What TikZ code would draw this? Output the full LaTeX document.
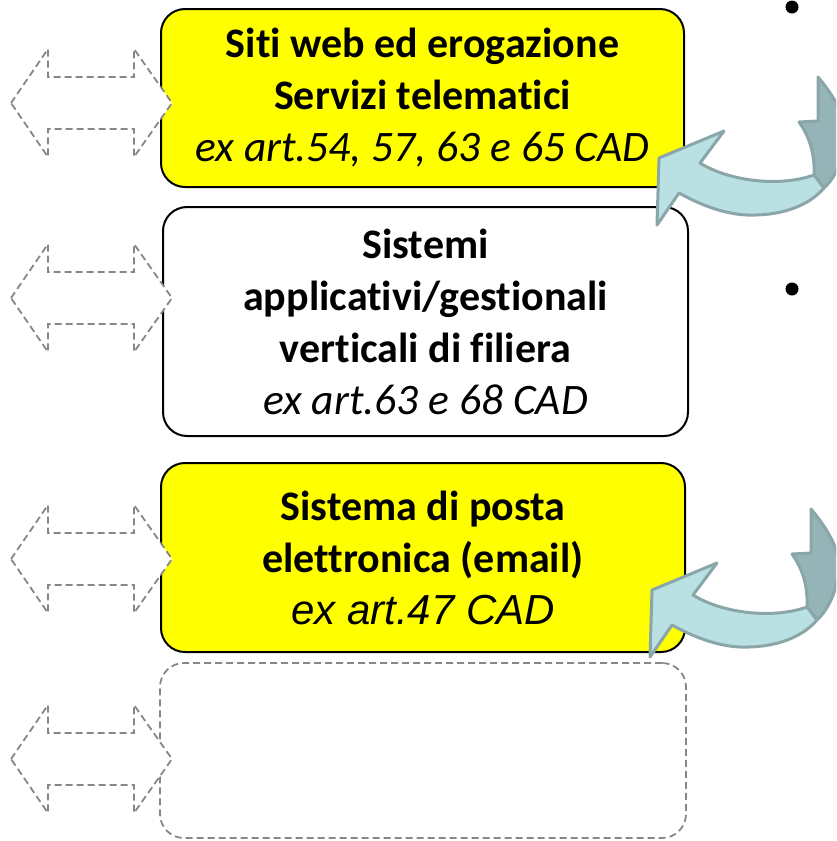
\documentclass[tikz,border=0pt]{standalone}
\usepackage{fontspec}
\setmainfont{Carlito}[Ligatures=NoCommon]
\newfontfamily\arialfont{Liberation Sans}
\usepackage{xcolor}
\usetikzlibrary{arrows.meta,positioning}

\definecolor{giallo}{HTML}{FFFF00}
\definecolor{grigio}{HTML}{878787}
\definecolor{azzurro}{HTML}{B9E0E3}
\definecolor{azzscuro}{HTML}{95B4B7}
\definecolor{bordoazz}{HTML}{8AA6A9}

% double arrow on the left, centred at height #1
\newcommand{\doppiafreccia}[1]{%
	\draw[freccia] (11,#1) -- (48,#1-54) -- (48,#1-26) -- (134,#1-26) -- (134,#1-54)
		-- (172,#1) -- (134,#1+54) -- (134,#1+26) -- (48,#1+26) -- (48,#1+54) -- cycle;}

% curved arrow on the right, shifted by #1
\newcommand{\frecciacurva}[1]{%
	\begin{scope}[shift={#1}]
		\filldraw[curva, fill=azzscuro] (811,509) .. controls (827,528) and (840,550) .. (839,567)
			.. controls (838,590) and (828,610) .. (817,620) -- (807,607)
			.. controls (808,585) and (802,568) .. (792,554) -- (811,553) -- cycle;
		\filldraw[curva, fill=azzurro] (693,595) .. controls (720,612) and (770,620) .. (807,607)
			-- (817,620) .. controls (800,640) and (770,648) .. (740,647)
			.. controls (715,646) and (690,635) .. (672,625)
			-- (650,657) -- (652,590) -- (717,563) -- cycle;
	\end{scope}}

\begin{document}
\begin{tikzpicture}[x=1pt, y=-1pt,
		riquadro/.style={draw, line width=2pt, rounded corners=24pt, inner sep=0pt,
			align=center, font=\fontsize{42}{52}\selectfont\bfseries},
		freccia/.style={draw=grigio, fill=white, line width=1.8pt, dash pattern=on 7pt off 4pt},
		curva/.style={draw=bordoazz, line width=3pt, line join=round}]
	\useasboundingbox (0,0) rectangle (836,841);
	\clip (0,0) rectangle (836,841);
	% Boxes
	\node[riquadro, fill=giallo, minimum width=523pt, minimum height=178pt] (siti) at (422.5,98)
		{Siti web ed erogazione\\ Servizi telematici\\ {\mdseries\itshape\fontsize{43.5}{52}\selectfont ex art.54, 57, 63 e 65 CAD}};
	\node[riquadro, fill=white, minimum width=525pt, minimum height=229pt] (sistemi) at (425.5,321.5)
		{Sistemi\\ applicativi/gestionali\\ verticali di filiera\\ {\mdseries\itshape\fontsize{43.5}{52}\selectfont ex art.63 e 68 CAD}};
	\node[riquadro, fill=giallo, minimum width=524pt, minimum height=189pt] (posta) at (423,557.5)
		{Sistema di posta\\ elettronica (email)\\ {\arialfont\mdseries\itshape ex art.47 CAD}};
	\node[riquadro, draw=grigio, line width=1.8pt, dash pattern=on 7pt off 4pt,
		minimum width=526pt, minimum height=175pt] (vuoto) at (423,750.5) {};
	% Double arrows
	\doppiafreccia{103}
	\doppiafreccia{298}
	\doppiafreccia{559}
	\doppiafreccia{759}
	% Curved arrows
	\frecciacurva{(7,-432)}
	\frecciacurva{(0,0)}
	% Bullets
	\fill (792,7) circle (6.5pt);
	\fill (792,289) circle (6.5pt);
\end{tikzpicture}
\end{document}
